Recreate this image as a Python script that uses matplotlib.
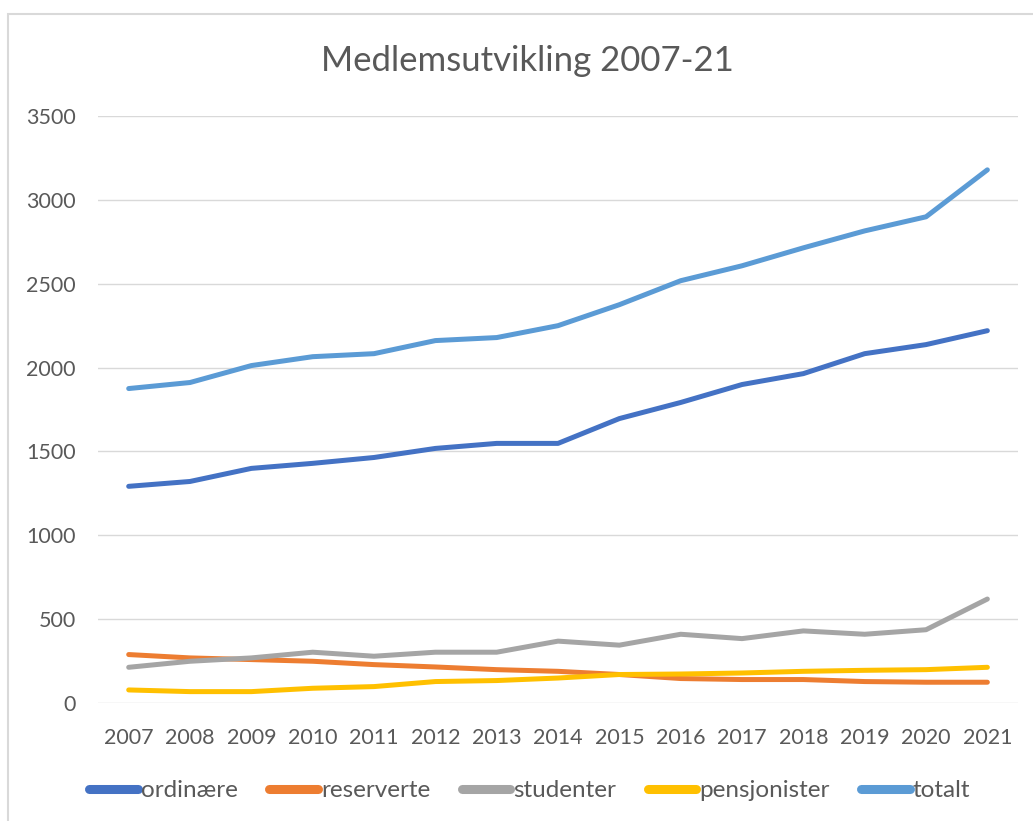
import matplotlib
matplotlib.use("Agg")
import matplotlib.pyplot as plt
from matplotlib.patches import Rectangle

plt.rcParams['font.family'] = ['Lato', 'DejaVu Sans']

years = ['2007', '2008', '2009', '2010', '2011', '2012', '2013', '2014',
         '2015', '2016', '2017', '2018', '2019', '2020', '2021']

ordinaere = [1292, 1321, 1399, 1429, 1464, 1518, 1548, 1548, 1696, 1792, 1899, 1964, 2083, 2137, 2220]
reserverte = [289, 269, 259, 249, 229, 215, 199, 189, 170, 146, 140, 140, 128, 124, 124]
studenter = [213, 249, 269, 303, 279, 303, 303, 369, 345, 410, 384, 430, 410, 437, 620]
pensjonister = [78, 68, 68, 88, 98, 128, 134, 149, 170, 173, 179, 189, 195, 199, 213]
totalt = [1875, 1911, 2012, 2065, 2083, 2161, 2179, 2250, 2375, 2518, 2607, 2714, 2815, 2899, 3179]

series = [
    ('ordinære', ordinaere, '#4472C4'),
    ('reserverte', reserverte, '#ED7D31'),
    ('studenter', studenter, '#A5A5A5'),
    ('pensjonister', pensjonister, '#FFC000'),
    ('totalt', totalt, '#5B9BD5'),
]

txt = '#595959'

fig = plt.figure(figsize=(10.33, 8.21), dpi=100)
# light frame around the chart area (like the Excel chart border)
fig.patches.append(Rectangle((8 / 1033, -0.1), 1.2, 1 - 14 / 821 + 0.1,
                             transform=fig.transFigure, fill=False,
                             edgecolor='#D9D9D9', linewidth=1.5))

ax = fig.add_axes([0.0949, 0.1437, 0.8906, 0.715])

x = list(range(len(years)))
for name, vals, col in series:
    ax.plot(x, vals, color=col, linewidth=3.6, label=name,
            solid_capstyle='round', solid_joinstyle='round')

ax.set_xlim(-0.5, len(years) - 0.5)
ax.set_ylim(0, 3500)
ax.set_yticks(range(0, 3501, 500))
ax.set_xticks(x)
ax.set_xticklabels(years)
ax.grid(axis='y', color='#D9D9D9', linewidth=1)
ax.set_axisbelow(True)
for s in ax.spines.values():
    s.set_visible(False)
ax.tick_params(length=0, labelsize=15.5, colors=txt)
ax.tick_params(axis='y', pad=16)
ax.tick_params(axis='x', pad=18)

fig.text(0.511, 0.926, 'Medlemsutvikling 2007-21', ha='center', va='center',
         fontsize=25, color=txt)

leg = fig.legend(loc='center', bbox_to_anchor=(0.513, 0.037), ncol=5,
                 frameon=False, fontsize=17.5, handlelength=2.0,
                 handletextpad=0.12, columnspacing=1.3)
for h in leg.get_lines():
    h.set_linewidth(6.5)
for t in leg.get_texts():
    t.set_color(txt)

fig.savefig('out.png', dpi=100)
